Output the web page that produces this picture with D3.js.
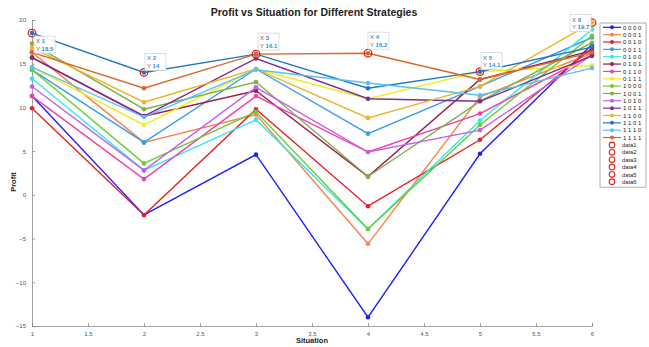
<!DOCTYPE html>
<html>
<head>
<meta charset="utf-8">
<script src="https://cdn.jsdelivr.net/npm/d3@7"></script>
<style>
  html, body { margin: 0; padding: 0; background: #fff; }
  svg { display: block; font-family: "Liberation Sans", Arial, sans-serif; }
</style>
</head>
<body>
<svg id="chart" width="649" height="347"></svg>
<script>
// Situations on the x axis
const situations = [1, 2, 3, 4, 5, 6];

// Strategy codes (legend labels)
const strategies = ["0 0 0 0", "0 0 0 1", "0 0 1 0", "0 0 1 1",
                    "0 1 0 0", "0 1 0 1", "0 1 1 0", "0 1 1 1",
                    "1 0 0 0", "1 0 0 1", "1 0 1 0", "1 0 1 1",
                    "1 1 0 0", "1 1 0 1", "1 1 1 0", "1 1 1 1"];

// Profit of each strategy at situations 1..6
const profit0000 = [11.3, -2.3, 4.6, -14.0, 4.7, 17.2];
const profit0001 = [16.3, 6.0, 9.2, -5.6, 11.2, 16.2];
const profit0010 = [9.9, -2.3, 9.8, -1.3, 6.3, 16.8];
const profit0011 = [14.3, 6.0, 14.4, 7.0, 12.4, 18.0];
const profit0100 = [13.3, 2.8, 8.6, -3.9, 8.5, 18.9];
const profit0101 = [15.7, 9.0, 11.9, 2.1, 13.2, 16.5];
const profit0110 = [11.3, 1.8, 11.3, 4.9, 9.3, 16.0];
const profit0111 = [14.6, 8.0, 14.4, 11.0, 14.1, 14.8];
const profit1000 = [14.3, 3.6, 9.5, -3.9, 8.0, 18.2];
const profit1001 = [17.3, 9.8, 12.9, 2.1, 10.7, 17.4];
const profit1010 = [12.4, 2.8, 12.3, 4.9, 7.4, 16.0];
const profit1011 = [15.7, 9.0, 15.6, 11.0, 10.7, 15.9];
const profit1100 = [16.8, 10.6, 14.4, 8.8, 12.4, 19.7];
const profit1101 = [18.5, 14.0, 16.1, 12.2, 14.1, 16.9];
const profit1110 = [14.6, 8.9, 14.3, 12.8, 11.4, 14.5];
const profit1111 = [16.3, 12.2, 16.1, 16.2, 13.2, 16.3];

const profits = [profit0000, profit0001, profit0010, profit0011,
                 profit0100, profit0101, profit0110, profit0111,
                 profit1000, profit1001, profit1010, profit1011,
                 profit1100, profit1101, profit1110, profit1111];

const colors = ["#1f1fff", "#f5864a", "#e8202a", "#3a9ee8",
                "#33e8f0", "#9b1d4a", "#f03fae", "#f2ec1c",
                "#6ccc2e", "#7fb04a", "#c25ff0", "#7e2f8e",
                "#e8b52a", "#1f77c0", "#5bc0ef", "#d9662a"];

// Highlighted maxima (data1..data6) with their data tips
const tipX = [1, 2, 3, 4, 5, 6];
const tipY = [18.5, 14.0, 16.1, 16.2, 14.1, 19.7];
const tipLabels = ["data1", "data2", "data3", "data4", "data5", "data6"];

const yTicks = [-15, -10, -5, 0, 5, 10, 15, 20];
const xTicks = [1, 1.5, 2, 2.5, 3, 3.5, 4, 4.5, 5, 5.5, 6];

const svg = d3.select("#chart");

const x = d3.scaleLinear().domain([1, 6]).range([32, 592]);
const y = d3.scaleLinear().domain([-15, 20]).range([326, 20]);

// Axes (ticks point inward)
const axisColor = "#8a8a8a";
const gx = svg.append("g").attr("transform", `translate(0,${y(-15)})`)
  .call(d3.axisBottom(x).tickValues(xTicks).tickSize(-3).tickPadding(6)
        .tickFormat(d3.format("")));
const gy = svg.append("g").attr("transform", `translate(${x(1)},0)`)
  .call(d3.axisLeft(y).tickValues(yTicks).tickSize(-3).tickPadding(6)
        .tickFormat(d3.format("")));
[gx, gy].forEach(g => {
  g.select(".domain").attr("stroke", axisColor).attr("stroke-width", 0.8);
  g.selectAll(".tick line").attr("stroke", axisColor).attr("stroke-width", 0.8);
  g.selectAll(".tick text").attr("fill", "#555").attr("font-size", 6);
});

// Series lines with filled point markers
const line = d3.line().x((d, i) => x(situations[i])).y(d => y(d));
const seriesG = svg.append("g");
profits.forEach((vals, k) => {
  const g = seriesG.append("g");
  g.append("path").attr("d", line(vals)).attr("fill", "none")
    .attr("stroke", colors[k]).attr("stroke-width", 1.4);
  g.selectAll("circle").data(vals).enter().append("circle")
    .attr("cx", (d, i) => x(situations[i])).attr("cy", d => y(d))
    .attr("r", 2.3).attr("fill", colors[k]);
});

// Red open circles at the maxima
svg.append("g").selectAll("circle").data(tipX).enter().append("circle")
  .attr("cx", d => x(d)).attr("cy", (d, i) => y(tipY[i]))
  .attr("r", 3.8).attr("fill", "none").attr("stroke", "#e2231a").attr("stroke-width", 1.3);

// Data tips
const tipOffsets = [[2, 3], [1, -19], [2, -21], [0, -21], [1, -19], [-22, -8]];
tipX.forEach((xv, i) => {
  const px = x(xv) + tipOffsets[i][0], py = y(tipY[i]) + tipOffsets[i][1];
  const g = svg.append("g").attr("transform", `translate(${px},${py})`);
  g.append("rect").attr("width", 21).attr("height", 17)
    .attr("fill", "#fff").attr("fill-opacity", 0.9)
    .attr("stroke", "#d0d0d0").attr("stroke-width", 0.7);
  const t1 = g.append("text").attr("x", 2).attr("y", 7).attr("font-size", 6);
  t1.append("tspan").attr("fill", "#666").text("X ");
  t1.append("tspan").attr("fill", "#2a8fd8").attr("font-weight", "bold").text(xv);
  const t2 = g.append("text").attr("x", 2).attr("y", 14.5).attr("font-size", 6);
  t2.append("tspan").attr("fill", "#666").text("Y ");
  t2.append("tspan").attr("fill", "#2a8fd8").attr("font-weight", "bold").text(tipY[i]);
});

// Title and axis labels
svg.append("text").attr("x", 314).attr("y", 16).attr("text-anchor", "middle")
  .attr("font-size", 10.5).attr("font-weight", "bold").attr("fill", "#222")
  .text("Profit vs Situation for Different Strategies");
svg.append("text").attr("x", 312).attr("y", 343).attr("text-anchor", "middle")
  .attr("font-size", 7.5).attr("font-weight", "bold").attr("fill", "#222")
  .text("Situation");
svg.append("text").attr("transform", "translate(16,182) rotate(-90)")
  .attr("text-anchor", "middle").attr("font-size", 7.5).attr("font-weight", "bold")
  .attr("fill", "#222").text("Profit");

// Legend
const lg = svg.append("g").attr("transform", "translate(600,23)");
const rowH = 7.35;
const nRows = strategies.length + tipLabels.length;
lg.append("rect").attr("width", 46).attr("height", nRows * rowH + 2.5)
  .attr("fill", "#fff").attr("stroke", "#9a9a9a").attr("stroke-width", 0.8);
strategies.forEach((s, k) => {
  const cy = 4.3 + k * rowH;
  lg.append("line").attr("x1", 3).attr("x2", 21).attr("y1", cy).attr("y2", cy)
    .attr("stroke", colors[k]).attr("stroke-width", 1.2);
  lg.append("circle").attr("cx", 12).attr("cy", cy).attr("r", 2).attr("fill", colors[k]);
  lg.append("text").attr("x", 23).attr("y", cy + 2.2).attr("font-size", 6)
    .attr("fill", "#222").text(s);
});
tipLabels.forEach((s, k) => {
  const cy = 4.3 + (strategies.length + k) * rowH;
  lg.append("circle").attr("cx", 12).attr("cy", cy).attr("r", 2.8)
    .attr("fill", "none").attr("stroke", "#e2231a").attr("stroke-width", 1.1);
  lg.append("text").attr("x", 22).attr("y", cy + 2.2).attr("font-size", 5.8)
    .attr("fill", "#222").text(s);
});
</script>
</body>
</html>
